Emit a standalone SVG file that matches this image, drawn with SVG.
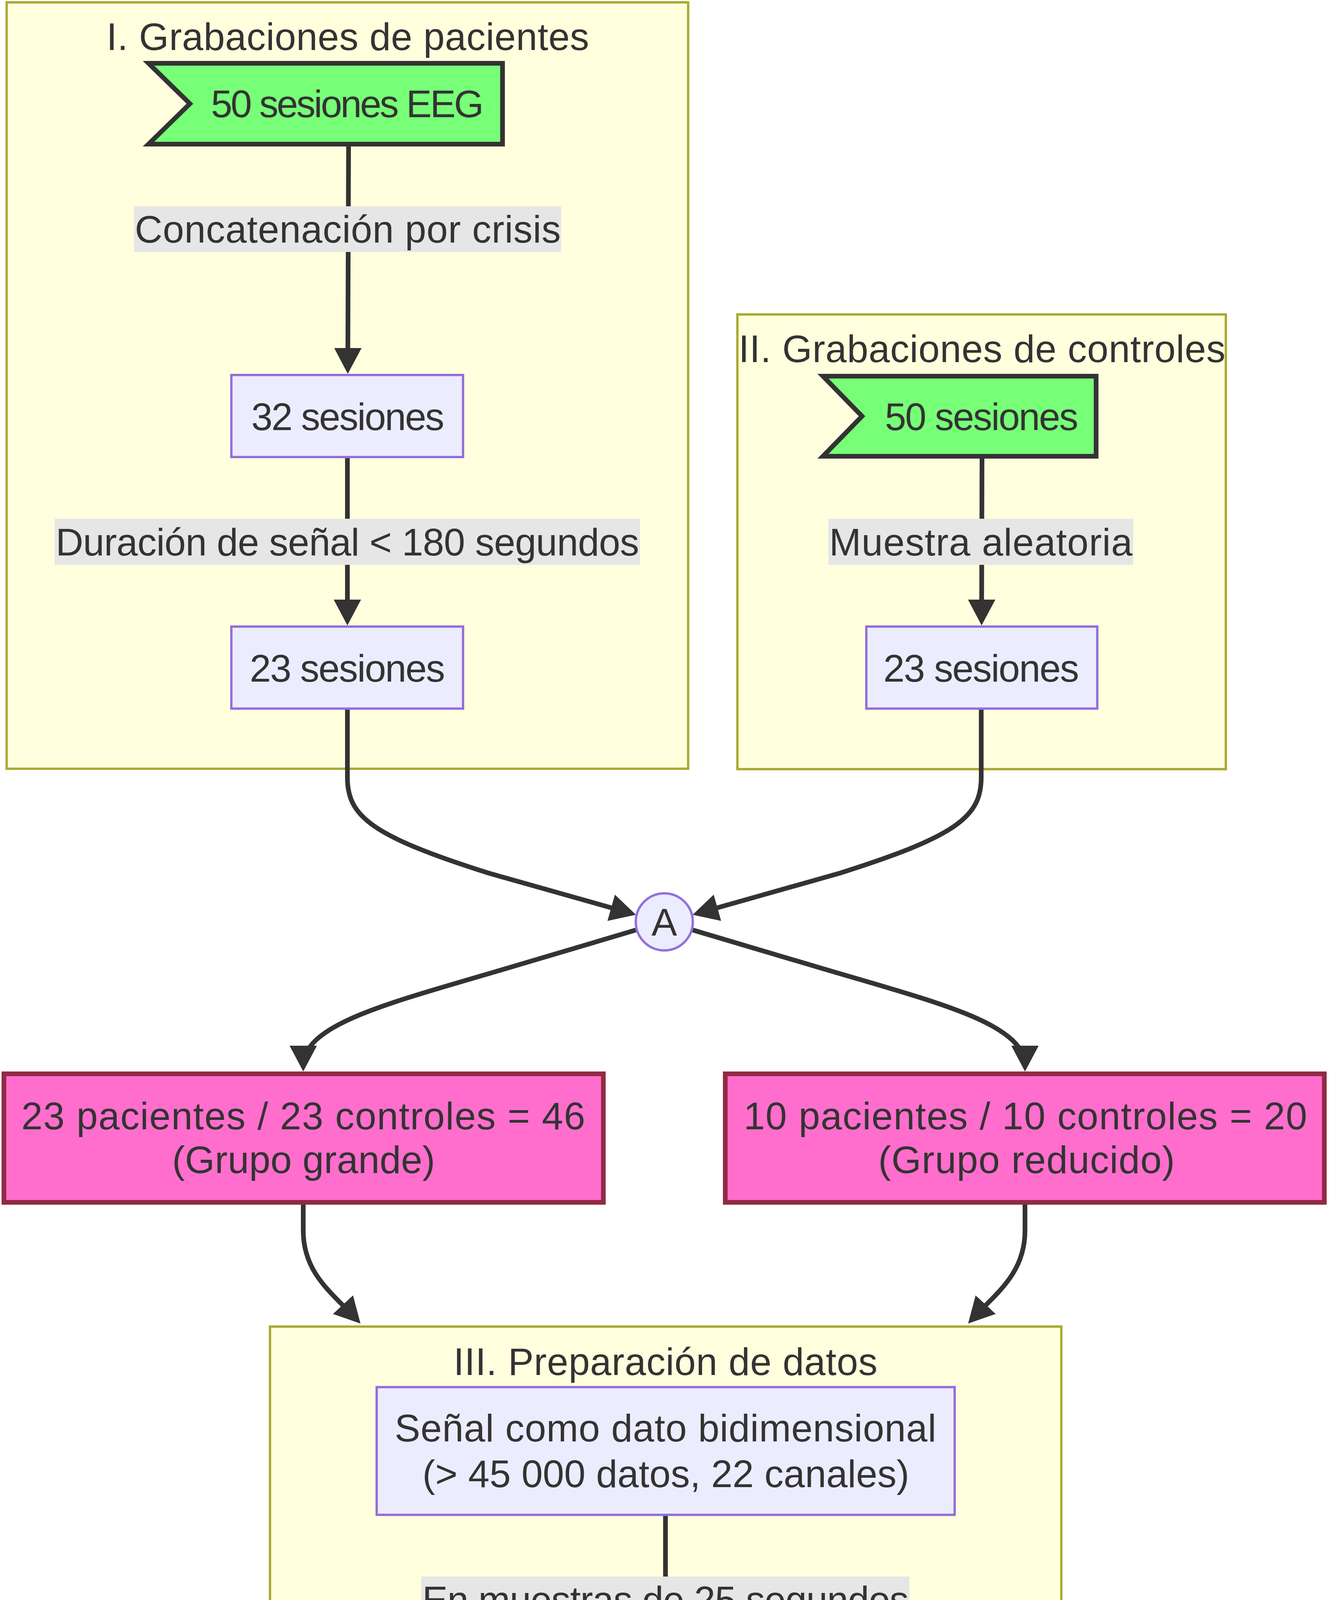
<svg xmlns="http://www.w3.org/2000/svg" width="3401" height="5330" viewBox="0 0 3401 5330">
<style>
.bg{fill:#ffffff}
.cl{fill:#ffffde;stroke:#aaaa33;stroke-width:6}
.t{font-family:"Liberation Sans",Arial,Helvetica,sans-serif;font-size:98px;fill:#333333;text-anchor:middle}
.n{fill:#ececff;stroke:#9370db;stroke-width:6}
.flag{fill:#77ff77;stroke:#333333;stroke-width:12;stroke-linejoin:miter}
.pink{fill:#ff6ecc;stroke:#922a45;stroke-width:12}
.cyan{fill:#54ffff;stroke:#0a5af5;stroke-width:12}
.e{fill:none;stroke:#333333;stroke-width:12;marker-end:url(#arrow)}
.lbl{fill:#e6e6e6}
</style>
<defs>
<marker id="arrow" markerUnits="userSpaceOnUse" viewBox="0 0 66 70" refX="52" refY="35" markerWidth="66" markerHeight="70" orient="auto">
<path d="M0,0 L66,35 L0,70 z" fill="#333333"/>
</marker>
</defs>
<rect class="bg" x="0" y="0" width="3401" height="5330"/>

<g id="cluster-I">
<rect class="cl" x="17" y="6" width="1744" height="1962"/>
<text class="t" x="890" y="128" textLength="1235">I. Grabaciones de pacientes</text>
</g>
<g id="cluster-II">
<rect class="cl" x="1887" y="805" width="1250" height="1164"/>
<text class="t" x="2513" y="927" textLength="1246">II. Grabaciones de controles</text>
</g>
<g id="cluster-III">
<rect class="cl" x="691" y="3396" width="2025" height="1403"/>
<text class="t" x="1703" y="3520" textLength="1085">III. Preparación de datos</text>
</g>

<g id="connectors">
<path class="e" d="M892,375 L890,943"/>
<path class="e" d="M889,1173 L889,1587"/>
<path class="e" d="M2513,1174 L2512,1587"/>
<path class="e" d="M889,1817 L889,1990 C889,2090 950,2140 1250,2235 L1614,2338"/>
<path class="e" d="M2511,1815 L2511,1990 C2511,2090 2450,2140 2150,2235 L1786,2338"/>
<path class="e" d="M1630,2380 L1300,2478 C1000,2567 776,2620 776,2729"/>
<path class="e" d="M1770,2380 L2100,2478 C2400,2567 2623,2620 2623,2729"/>
<path class="e" d="M776,3084 L776,3150 C776,3260 850,3310 913,3378"/>
<path class="e" d="M2623,3084 L2623,3150 C2623,3260 2550,3310 2487,3378"/>
<path class="e" d="M1703,3881 L1703,4296"/>
<path class="e" d="M1052,4802 C985,4890 911,4960 911,5040 L911,5091"/>
<path class="e" d="M2348,4802 C2415,4890 2489,4960 2489,5040 L2489,5091"/>
<g id="edge-labels">
<rect class="lbl" x="343" y="528" width="1093" height="117"/>
<text class="t" x="890" y="621" textLength="1090">Concatenación por crisis</text>
<rect class="lbl" x="140" y="1328" width="1498" height="118"/>
<text class="t" x="889" y="1422" textLength="1493">Duración de señal &lt; 180 segundos</text>
<rect class="lbl" x="2120" y="1328" width="780" height="118"/>
<text class="t" x="2510" y="1422" textLength="776">Muestra aleatoria</text>
<rect class="lbl" x="1078" y="4036" width="1249" height="118"/>
<text class="t" x="1703" y="4130" textLength="1245">En muestras de 25 segundos</text>
</g>
</g>

<g id="node-eeg">
<polygon class="flag" points="380,162 1286,162 1286,369 380,369 486,265.5"/>
<text class="t" x="889" y="300" textLength="698">50 sesiones EEG</text>
</g>
<g id="node-p32">
<rect class="n" x="592" y="960" width="593" height="210"/>
<text class="t" x="890" y="1101" textLength="494">32 sesiones</text>
</g>
<g id="node-p23">
<rect class="n" x="592" y="1604" width="593" height="210"/>
<text class="t" x="889" y="1745" textLength="500">23 sesiones</text>
</g>
<g id="node-c50">
<polygon class="flag" points="2106,963 2805,963 2805,1168 2106,1168 2206,1065.5"/>
<text class="t" x="2512" y="1101" textLength="495">50 sesiones</text>
</g>
<g id="node-c23">
<rect class="n" x="2217" y="1604" width="591" height="210"/>
<text class="t" x="2511" y="1745" textLength="501">23 sesiones</text>
</g>
<g id="node-A">
<circle class="n" cx="1700" cy="2360" r="73"/>
<text class="t" x="1700" y="2395">A</text>
</g>
<g id="node-grande">
<rect class="pink" x="10" y="2749" width="1534" height="329"/>
<text class="t" x="776" y="2891" textLength="1443">23 pacientes / 23 controles = 46</text>
<text class="t" x="777" y="3003" textLength="673">(Grupo grande)</text>
</g>
<g id="node-reducido">
<rect class="pink" x="1856" y="2749" width="1533" height="329"/>
<text class="t" x="2624" y="2891" textLength="1442">10 pacientes / 10 controles = 20</text>
<text class="t" x="2627" y="3003" textLength="759">(Grupo reducido)</text>
</g>
<g id="node-bidim">
<rect class="n" x="964" y="3551" width="1479" height="327"/>
<text class="t" x="1703" y="3690" textLength="1386">Señal como dato bidimensional</text>
<text class="t" x="1704" y="3807" textLength="1246">(&gt; 45 000 datos, 22 canales)</text>
</g>
<g id="node-tridim">
<rect class="n" x="909" y="4313" width="1589" height="328"/>
<text class="t" x="1702" y="4453" textLength="1494">Señal como dato trididimensional</text>
<text class="t" x="1705" y="4570" textLength="1186">(epochs, 6250, 22 canales)</text>
</g>
<g id="node-train">
<rect class="cyan" x="229" y="5111" width="1368" height="212"/>
<text class="t" x="911" y="5252" textLength="1276">70% Datos de entrenamiento</text>
</g>
<g id="node-val">
<rect class="cyan" x="1909" y="5111" width="1161" height="212"/>
<text class="t" x="2490" y="5252" textLength="1063">30% Datos de validación</text>
</g>
</svg>
